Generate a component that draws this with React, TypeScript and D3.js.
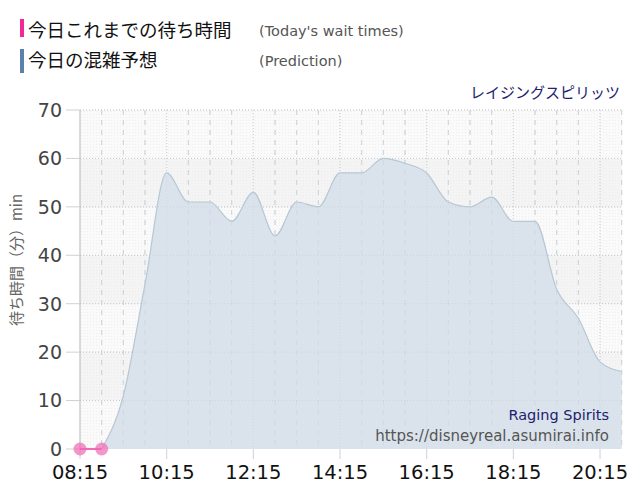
import React from "react";
import * as d3 from "d3";

const predTimes = ["08:45","09:15","09:45","10:15","10:45","11:15","11:45","12:15","12:45","13:15","13:45","14:15","14:45","15:15","15:45","16:15","16:45","17:15","17:45","18:15","18:45","19:15","19:45","20:15","20:45"];
const predValues = [0,11,34,57,51,51,47,53,44,51,50,57,57,60,59,57,51,50,52,47,47,33,27,18,16];
const actualTimes = ["08:15","08:45"];
const actualValues = [0,0];
const xTickLabels = ["08:15","10:15","12:15","14:15","16:15","18:15","20:15"];
const yTicks = [0,10,20,30,40,50,60,70];

const toMin = (s: string) => { const [h, m] = s.split(":").map(Number); return h * 60 + m; };

export default function App() {
  const W = 640, H = 500;
  const left = 80, right = 621.7, top = 110, bottom = 449;
  const x = d3.scaleLinear().domain([toMin("08:15"), toMin("20:45")]).range([left, right]);
  const y = d3.scaleLinear().domain([0, 70]).range([bottom, top]);

  const predPts = predTimes.map((t, i) => [toMin(t), predValues[i]] as [number, number]);
  const area = d3.area<[number, number]>().x(d => x(d[0])).y0(y(0)).y1(d => y(d[1])).curve(d3.curveMonotoneX);
  const line = d3.line<[number, number]>().x(d => x(d[0])).y(d => y(d[1])).curve(d3.curveMonotoneX);
  const actPts = actualTimes.map((t, i) => [toMin(t), actualValues[i]] as [number, number]);
  const actLine = d3.line<[number, number]>().x(d => x(d[0])).y(d => y(d[1]));

  const halfHours: number[] = [];
  for (let m = toMin("08:45"); m <= toMin("20:45"); m += 30) halfHours.push(m);
  const majors = xTickLabels.map(toMin);

  const font = "'DejaVu Sans', Verdana, sans-serif";
  const jfont = "'Noto Sans CJK JP', sans-serif";

  return (
    <svg width={W} height={H} style={{ position: "absolute", left: 0, top: 0 }}>
      <defs>
        <pattern id="dots" width="3" height="3" patternUnits="userSpaceOnUse">
          <rect x="0" y="0" width="1" height="1" fill="#e4e4e4" />
        </pattern>
      </defs>
      <rect width={W} height={H} fill="#fff" />
      {/* legend */}
      <rect x={20} y={19} width={4} height={18} fill="#f0289a" />
      <text x={28} y={37} fontFamily={jfont} fontSize={18.5} fill="#111">今日これまでの待ち時間</text>
      <text x={259} y={36} fontFamily={font} fontSize={14.5} fill="#555">(Today's wait times)</text>
      <rect x={20} y={49} width={4} height={24} fill="#5b80a9" />
      <text x={28} y={67} fontFamily={jfont} fontSize={18.5} fill="#111">今日の混雑予想</text>
      <text x={259} y={66} fontFamily={font} fontSize={14.5} fill="#555">(Prediction)</text>
      <text x={620} y={98} textAnchor="end" fontFamily={jfont} fontSize={15} fill="#22226e">レイジングスピリッツ</text>

      {/* plot bands */}
      {yTicks.slice(0, -1).map((v, i) => (
        <rect key={"b" + v} x={left} y={y(v + 10)} width={right - left} height={y(v) - y(v + 10)} fill={i % 2 === 1 ? "#f4f4f4" : "#fafafa"} />
      ))}
      <rect x={left} y={top} width={right - left} height={bottom - top} fill="url(#dots)" opacity={0.5} />

      {/* grid */}
      {yTicks.slice(1).map(v => (
        <line key={"h" + v} x1={left} x2={right} y1={y(v)} y2={y(v)} stroke="#c8c8c8" strokeDasharray="1,2" />
      ))}
      {halfHours.map(m => (
        <line key={"v" + m} x1={x(m)} x2={x(m)} y1={top} y2={bottom}
          stroke={majors.includes(m) ? "#cfcfcf" : "#d6d6d6"}
          strokeDasharray={majors.includes(m) ? "1,2" : "5,5"} />
      ))}

      {/* prediction area */}
      <path d={area(predPts) || ""} fill="#d8e2ea" fillOpacity={0.95} />
      <path d={line(predPts) || ""} fill="none" stroke="#b7c7d3" strokeWidth={1.2} />
      {halfHours.map(m => (
        <line key={"vo" + m} x1={x(m)} x2={x(m)} y1={top} y2={bottom}
          stroke="#c9d3db" strokeOpacity={0.6}
          strokeDasharray={majors.includes(m) ? "1,2" : "5,5"} />
      ))}
      {yTicks.slice(1).map(v => (
        <line key={"ho" + v} x1={left} x2={right} y1={y(v)} y2={y(v)} stroke="#c4ccd3" strokeOpacity={0.6} strokeDasharray="1,2" />
      ))}

      {/* axes */}
      <line x1={left} x2={left} y1={top} y2={bottom} stroke="#b5b5b5" />
      <line x1={left} x2={right} y1={bottom + 1} y2={bottom + 1} stroke="#ffffff" strokeWidth={1.5} />
      {yTicks.map(v => (
        <g key={"yt" + v}>
          <line x1={66} x2={left} y1={y(v)} y2={y(v)} stroke="#d0d0d0" />
          <text x={62} y={y(v)} dy="0.36em" textAnchor="end" fontFamily={font} fontSize={19} fill="#444">{v}</text>
        </g>
      ))}
      {majors.map((m, i) => (
        <g key={"xt" + m}>
          <line x1={x(m)} x2={x(m)} y1={bottom} y2={bottom + 10} stroke="#d0d0d0" />
          <text x={x(m)} y={479} textAnchor="middle" fontFamily={font} fontSize={19.5} fill="#111">{xTickLabels[i]}</text>
        </g>
      ))}
      <text transform="translate(22,260) rotate(-90)" textAnchor="middle" fontFamily={jfont} fontSize={15} fill="#666">待ち時間（分）min</text>

      {/* actual series */}
      <path d={actLine(actPts) || ""} fill="none" stroke="#f06ab4" strokeWidth={2} />
      {actPts.map((p, i) => (
        <circle key={"a" + i} cx={x(p[0])} cy={y(p[1])} r={6.5} fill="#f06ab4" fillOpacity={0.7} />
      ))}

      {/* credits */}
      <text x={609} y={420} textAnchor="end" fontFamily={font} fontSize={14.5} fill="#22226e">Raging Spirits</text>
      <text x={609} y={441} textAnchor="end" fontFamily={font} fontSize={15} fill="#555">https://disneyreal.asumirai.info</text>
    </svg>
  );
}
